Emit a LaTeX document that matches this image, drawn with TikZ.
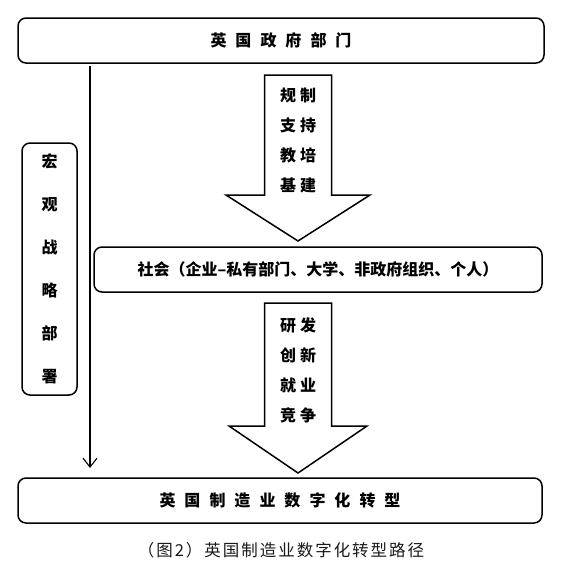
\documentclass[tikz,border=0pt]{standalone}
\usepackage{fontspec}
\setmainfont{Noto Sans CJK SC}
\usetikzlibrary{arrows.meta, positioning}

\newcommand{\gap}{\hspace{9pt}}

\begin{document}
\begin{tikzpicture}[
        x=1pt, y=1pt,
        every node/.style={inner sep=0pt},
        box/.style={draw, line width=1.5pt, rounded corners=8pt, font=\bfseries\fontsize{16}{18}\selectfont},
        blockarrow/.style={draw, line width=1.5pt, fill=white},
        leadline/.style={draw, line width=1.1pt, -{Straight Barb[length=9pt, width=14pt]}},
        cue/.style={align=center, font=\bfseries\fontsize{16}{30}\selectfont}
    ]
    \useasboundingbox (0,0) rectangle (562,-562);

    \node[box, minimum width=526, minimum height=45] (gov) at (281,-40.5) {英\gap 国\gap 政\gap 府\gap 部\gap 门};
    \node[box, minimum width=448, minimum height=45] (soc) at (318,-269.5) {社会（企业–私有部门、大学、非政府组织、个人）};
    \node[box, minimum width=524, minimum height=45] (mfg) at (280,-500.5) {英\gap 国\gap 制\gap 造\gap 业\gap 数\gap 字\gap 化\gap 转\gap 型};
    \node[box, minimum width=55, minimum height=252, align=center, font=\bfseries\fontsize{16}{43}\selectfont] (macro) at (49.5,-269) {宏\\观\\战\\略\\部\\署};

    % block arrows
    \draw[blockarrow] (264.5,-75) -- (331.5,-75) -- (331.5,-195) -- (370,-195) -- (298,-241) -- (226,-195) -- (264.5,-195) -- cycle;
    \node[cue] (policy) at (298,-140) {规\hspace{4pt}制\\支\hspace{4pt}持\\教\hspace{4pt}培\\基\hspace{4pt}建};

    \draw[blockarrow] (264.5,-303) -- (331.5,-303) -- (331.5,-426) -- (367,-426) -- (298,-473) -- (229,-426) -- (264.5,-426) -- cycle;
    \node[cue] (growth) at (298,-370) {研\hspace{4pt}发\\创\hspace{4pt}新\\就\hspace{4pt}业\\竞\hspace{4pt}争};

    \coordinate (linestart) at (90,-66);
    \coordinate (lineend) at (90,-468);
    \draw[leadline] (linestart) -- (lineend);

    \node[font=\fontsize{16.5}{18}\selectfont\addfontfeature{LetterSpace=12}, text=black!90] (caption) at (281,-550) {（图2）英国制造业数字化转型路径};
\end{tikzpicture}
\end{document}
